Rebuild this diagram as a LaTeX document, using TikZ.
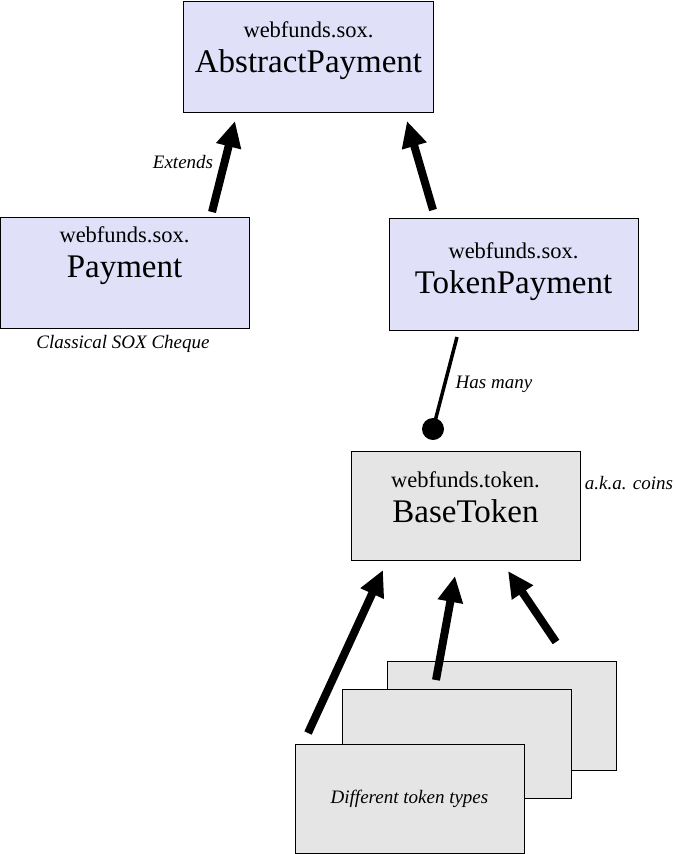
\documentclass[tikz,border=0pt]{standalone}
\usepackage{fontspec}
\setmainfont{Liberation Serif}
\usetikzlibrary{arrows.meta}
\definecolor{classblue}{RGB}{224,224,248}
\definecolor{tokengrey}{RGB}{229,229,229}
\newcommand{\classname}[2]{{\fontsize{22.5}{26}\selectfont #1}\\#2}

\begin{document}
\begin{tikzpicture}[x=1pt,y=-1pt,
        klass/.style={draw,line width=1pt,fill=classblue,minimum width=249pt,minimum height=111pt,inner sep=0pt},
        token/.style={klass,fill=tokengrey,minimum width=229pt,minimum height=109pt},
        title/.style={align=center,text depth=0pt,font=\fontsize{33}{35}\selectfont},
        note/.style={font=\fontsize{19}{22}\selectfont\itshape},
        extends/.style={line width=8pt,-{Triangle[length=26pt,width=24pt]}},
        hasmany/.style={line width=3.5pt}]
            \useasboundingbox (0,0) rectangle (676,854);
            \node[klass,minimum width=250pt] (abstract) at (308.5,56.5) {};
            \node[title] (abstract-name) at ([yshift=9pt]abstract.center) {\classname{webfunds.sox.}{AbstractPayment}};
            \node[klass] (payment) at (124.5,272.5) {};
            \node[title] (payment-name) at ([yshift=20pt]payment.center) {\classname{webfunds.sox.}{Payment}};
            \node[klass,minimum height=112pt] (tokenpay) at (513.5,274) {};
            \node[title] (tokenpay-name) at ([yshift=6pt]tokenpay.center) {\classname{webfunds.sox.}{TokenPayment}};
            \node[token] (basetoken) at (465.5,505.5) {};
            \node[title] (basetoken-name) at ([yshift=8pt]basetoken.center) {\classname{webfunds.token.}{BaseToken}};
            \node[token] (back) at (502,715.5) {};
            \node[token] (middle) at (456.5,744) {};
            \node[token] (front) at (409.5,798.5) {};
            \node[note] (types) at (front.center) {Different token types};
            \node[note] (extends-label) at (183,162) {Extends};
            \node[note] (cheque) at (123,344) {Classical SOX Cheque};
            \node[note] (hasmany-label) at (494,384) {Has many};
            \node[note] (coins) at (629,483) {a.k.a. coins};
            \coordinate (payment-up) at (212,212);
            \coordinate (abstract-in1) at (235,121);
            \coordinate (tokenpay-up) at (433,210);
            \coordinate (abstract-in2) at (407,121);
            \coordinate (tokenpay-down) at (457,337);
            \coordinate (ball) at (433,429);
            \coordinate (front-up) at (308,733);
            \coordinate (middle-up) at (436,680);
            \coordinate (back-up) at (556,642);
            \coordinate (basetoken-in1) at (383,570);
            \coordinate (basetoken-in2) at (455,576);
            \coordinate (basetoken-in3) at (508,571);
            \draw[extends] (payment-up) -- (abstract-in1);
            \draw[extends] (tokenpay-up) -- (abstract-in2);
            \draw[hasmany] (tokenpay-down) -- (ball);
            \fill (ball) circle (11);
            \foreach \from/\to in {front-up/basetoken-in1,middle-up/basetoken-in2,back-up/basetoken-in3}
                \draw[extends] (\from) -- (\to);
        \end{tikzpicture}
\end{document}
